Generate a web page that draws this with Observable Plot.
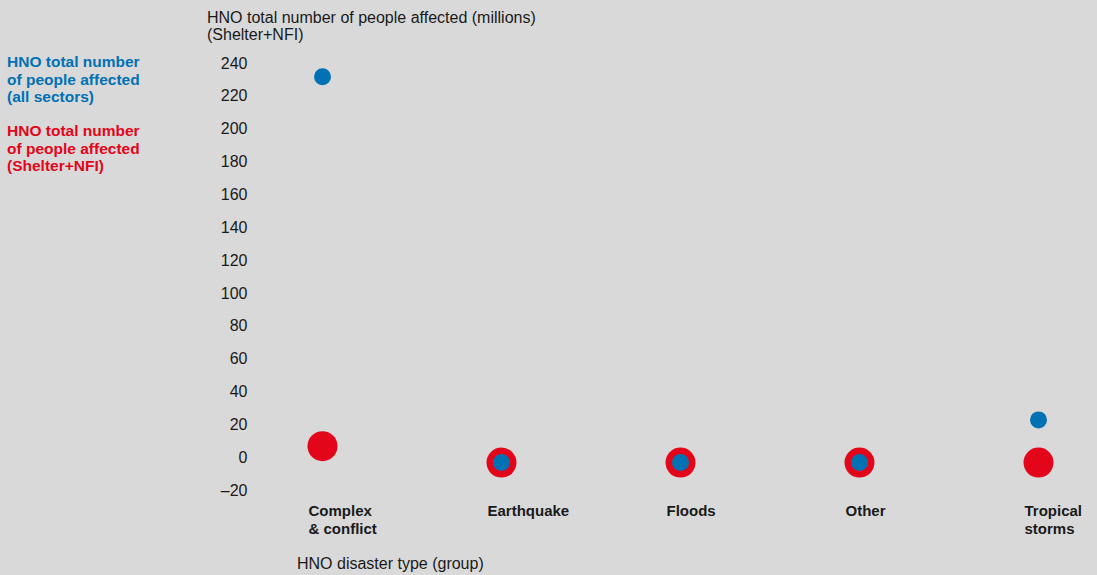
<!DOCTYPE html>
<html>
<head>
<meta charset="utf-8">
<script src="https://cdn.jsdelivr.net/npm/d3@7"></script>
<script src="https://cdn.jsdelivr.net/npm/@observablehq/plot@0.6"></script>
<style>
  html, body { margin: 0; padding: 0; background: #d9d9d9; width: 1097px; height: 575px; overflow: hidden; }
  body { position: relative; font-family: "Liberation Sans", Arial, sans-serif; color: #1a1a1a; }
  #chart { position: absolute; left: 0; top: 0; }
  .abs { position: absolute; white-space: nowrap; }
  #ytitle { left: 207px; top: 9px; font-size: 16px; line-height: 17px; }
  #xtitle { left: 297px; top: 555px; font-size: 16px; line-height: 17px; }
  .leg { left: 7px; font-size: 15.5px; font-weight: bold; line-height: 17.5px; }
  #leg1 { top: 53px; color: #0071b3; }
  #leg2 { top: 122px; color: #e3061a; }
</style>
</head>
<body>
<div id="chart"></div>
<div class="abs" id="ytitle">HNO total number of people affected (millions)<br>(Shelter+NFI)</div>
<div class="abs" id="xtitle">HNO disaster type (group)</div>
<div class="abs leg" id="leg1">HNO total number<br>of people affected<br>(all sectors)</div>
<div class="abs leg" id="leg2">HNO total number<br>of people affected<br>(Shelter+NFI)</div>
<script>
const categories = ["Complex & conflict", "Earthquake", "Floods", "Other", "Tropical storms"];
const tickLabels = ["Complex\n& conflict", "Earthquake", "Floods", "Other", "Tropical\nstorms"];
const allSectors = [232, -3, -3, -3, 23];
const shelterNfi = [7, -3, -3, -3, -3];
const yTicks = [-20, 0, 20, 40, 60, 80, 100, 120, 140, 160, 180, 200, 220, 240];

const data = categories.map((c, i) => ({cat: c, all: allSectors[i], shelter: shelterNfi[i]}));
const labelOf = new Map(categories.map((c, i) => [c, tickLabels[i]]));

const plot = Plot.plot({
  width: 1097,
  height: 575,
  marginTop: 63,
  marginBottom: 85,
  marginLeft: 321,
  marginRight: 59,
  style: {background: "transparent", fontFamily: "'Liberation Sans', Arial, sans-serif", fontSize: "16px", color: "#1a1a1a"},
  x: {type: "point", domain: categories, padding: 0},
  y: {domain: [-20, 240]},
  marks: [
    Plot.axisY({ticks: yTicks, tickSize: 0, tickPadding: 74, label: null, tickFormat: d => d < 0 ? "\u2013" + Math.abs(d) : String(d), fontSize: 16}),
    Plot.axisX({tickSize: 0, tickPadding: 13, label: null, tickFormat: d => labelOf.get(d), textAnchor: "start", dx: -14, fontWeight: "bold", fontSize: 15, lineHeight: 1.2}),
    Plot.dot(data, {x: "cat", y: "shelter", r: 15, fill: "#e3061a"}),
    Plot.dot(data, {x: "cat", y: "all", r: 8.5, fill: "#0071b3"})
  ]
});
document.getElementById("chart").appendChild(plot);
</script>
</body>
</html>
